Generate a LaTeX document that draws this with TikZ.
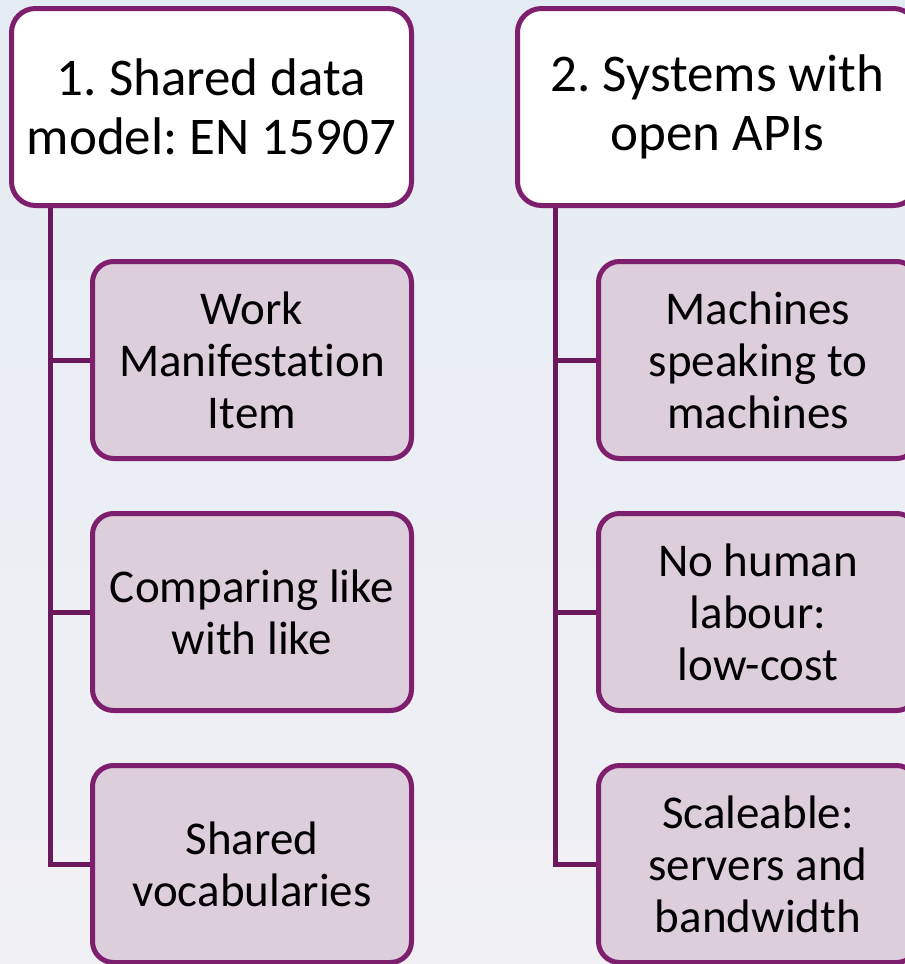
\documentclass[tikz,border=0pt]{standalone}
\usepackage{fontspec}
\setmainfont{Carlito}[Ligatures=NoCommon]
\definecolor{boxline}{RGB}{126,31,110}
\definecolor{linkline}{RGB}{106,26,92}
\definecolor{subfill}{RGB}{220,207,219}
\definecolor{bgtop}{RGB}{229,235,243}
\definecolor{bgbottom}{RGB}{241,241,245}

\begin{document}
\frenchspacing
\begin{tikzpicture}[x=1pt, y=-1pt,
    topbox/.style={draw=boxline, line width=5pt, fill=white, rounded corners=24pt,
        minimum width=400pt, minimum height=197pt, align=center,
        font=\fontsize{53}{59}\selectfont},
    subbox/.style={draw=boxline, line width=5pt, fill=subfill, rounded corners=21pt,
        minimum width=319pt, minimum height=197pt, align=center,
        font=\fontsize{47}{52}\selectfont},
    link/.style={draw=linkline, line width=5pt}]
        \useasboundingbox (0,0) rectangle (905,964);
        \clip (0,0) rectangle (905,964);
        \shade[top color=bgtop, bottom color=bgbottom] (0,0) rectangle (905,964);

        % column 1
        \node[topbox] (t1) at (211.5,107) {1. Shared data\\model: EN 15907};
        \node[subbox] (a1) at (252,360) {Work\\Manifestation\\Item};
        \node[subbox] (a2) at (252,612) {Comparing like\\with like};
        \node[subbox] (a3) at (252,864) {Shared\\vocabularies};
        \coordinate (k1) at ([xshift=41pt]t1.south west);

        % column 2
        \node[topbox] (t2) at (717.5,107) {2. Systems with\\open APIs};
        \node[subbox] (b1) at (758,360) {Machines\\speaking to\\machines};
        \node[subbox] (b2) at (758,612) {No human\\labour:\\low-cost};
        \node[subbox] (b3) at (758,864) {Scaleable:\\servers and\\bandwidth};
        \coordinate (k2) at ([xshift=40.5pt]t2.south west);

        \draw[link, line join=miter] (a3.west) -| (k1);
        \draw[link] (a1.west) -- (a1.west -| k1);
        \draw[link] (a2.west) -- (a2.west -| k1);
        \draw[link, line join=miter] (b3.west) -| (k2);
        \draw[link] (b1.west) -- (b1.west -| k2);
        \draw[link] (b2.west) -- (b2.west -| k2);
    \end{tikzpicture}
\end{document}
